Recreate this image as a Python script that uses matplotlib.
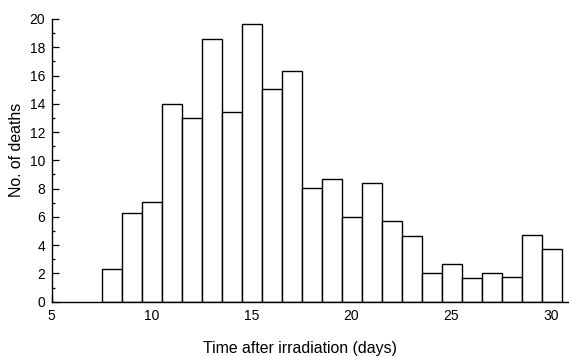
import matplotlib
matplotlib.use("Agg")
import matplotlib.pyplot as plt
from matplotlib.ticker import MultipleLocator

days = [8, 9, 10, 11, 12, 13, 14, 15, 16, 17, 18, 19, 20, 21, 22, 23, 24, 25, 26, 27, 28, 29, 30]
deaths = [2.3, 6.25, 7.07, 14.0, 13.0, 18.6, 13.4, 19.67, 15.07, 16.34, 8.02, 8.68, 6.02, 8.42, 5.72,
          4.68, 2.04, 2.7, 1.7, 2.05, 1.72, 4.72, 3.74]
xticks = [5, 10, 15, 20, 25, 30]
yticks = [0, 2, 4, 6, 8, 10, 12, 14, 16, 18, 20]

plt.rcParams['font.family'] = ['Liberation Sans', 'DejaVu Sans']

W, H = 569, 356
fig = plt.figure(figsize=(W / 100, H / 100), dpi=100)
left, right = 51.5, 568.7
bottom, top = 301.7, 19.0
ax = fig.add_axes([left / W, 1 - bottom / H, (right - left) / W, (bottom - top) / H])

ax.bar(days, deaths, width=1.0, color='white', edgecolor='black', linewidth=1.0, zorder=2)

ax.set_xlim(5, 5 + (right - left) / 20.0)
ax.set_ylim(0, 20)
ax.set_xticks(xticks)
ax.set_yticks(yticks)
ax.yaxis.set_minor_locator(MultipleLocator(1))
for s in ['top', 'right']:
    ax.spines[s].set_visible(False)
for s in ['left', 'bottom']:
    ax.spines[s].set_linewidth(1.0)
    ax.spines[s].set_zorder(3)
ax.tick_params(axis='both', which='major', direction='in', length=5, width=0.9, labelsize=10)
ax.tick_params(axis='y', which='minor', direction='in', length=1.8, width=0.9)
ax.tick_params(axis='x', which='major', pad=5)
ax.tick_params(axis='y', which='major', pad=4.5)
for lab in ax.get_yticklabels():
    lab.set_y(lab.get_position()[1])

fig.text(300 / W, 2.5 / H, 'Time after irradiation (days)', ha='center', va='baseline', fontsize=11.4)
fig.text(17 / W, 1 - 149.7 / H, 'No. of deaths', ha='center', va='center', rotation=90, fontsize=11.4)

fig.savefig('out.png', dpi=100)
